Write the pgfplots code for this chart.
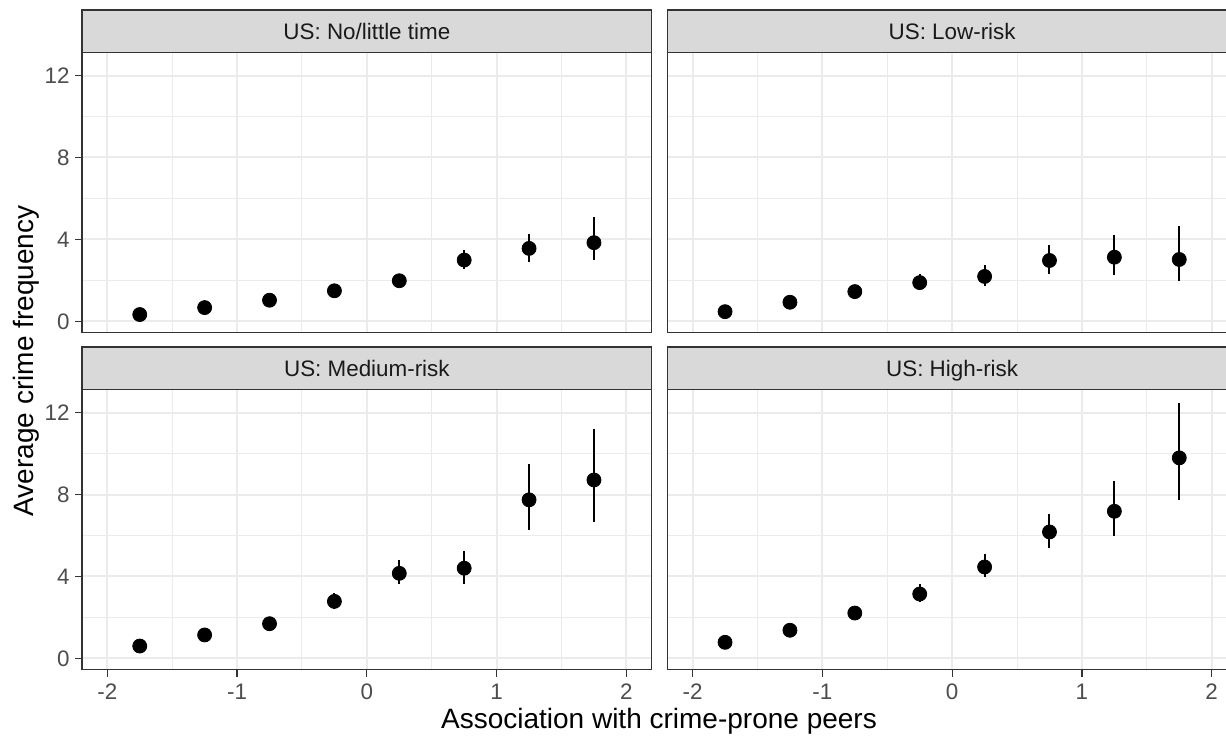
\documentclass[border=0pt]{standalone}
\usepackage{pgfplots}
\pgfplotsset{compat=1.18}
\usepackage{pgfplotstable}
\usepackage{fontspec}
\setmainfont{Liberation Sans}
\definecolor{gridc}{HTML}{EBEBEB}
\definecolor{borderc}{HTML}{333333}
\definecolor{stripc}{HTML}{D9D9D9}
\definecolor{tickc}{HTML}{4D4D4D}
\definecolor{stript}{HTML}{1A1A1A}

\pgfplotstableread{
x y ep em
-1.75 0.33 0.07 0.06
-1.25 0.67 0.10 0.09
-0.75 1.03 0.12 0.11
-0.25 1.49 0.16 0.14
0.25 1.98 0.17 0.16
0.75 2.99 0.47 0.46
1.25 3.56 0.72 0.65
1.75 3.84 1.23 0.87
}\nl
\pgfplotstableread{
x y ep em
-1.75 0.47 0.08 0.07
-1.25 0.93 0.10 0.10
-0.75 1.45 0.13 0.13
-0.25 1.89 0.40 0.26
0.25 2.19 0.54 0.48
0.75 2.97 0.75 0.65
1.25 3.13 1.08 0.88
1.75 3.02 1.62 1.06
}\lr
\pgfplotstableread{
x y ep em
-1.75 0.60 0.10 0.08
-1.25 1.14 0.12 0.12
-0.75 1.69 0.16 0.15
-0.25 2.78 0.40 0.38
0.25 4.15 0.64 0.53
0.75 4.40 0.86 0.75
1.25 7.74 1.77 1.49
1.75 8.71 2.48 2.03
}\mr
\pgfplotstableread{
x y ep em
-1.75 0.78 0.12 0.10
-1.25 1.37 0.15 0.13
-0.75 2.21 0.24 0.23
-0.25 3.14 0.48 0.39
0.25 4.46 0.61 0.49
0.75 6.17 0.90 0.76
1.25 7.18 1.48 1.22
1.75 9.79 2.69 2.07
}\hr

\pgfplotsset{
  panel/.style={
    scale only axis, width=284.85pt, height=140pt, anchor=north west,
    xmin=-2.195, xmax=2.195, ymin=-0.557, ymax=13.118,
    xtick={-2,-1,0,1,2}, ytick={0,4,8,12},
    minor xtick={-1.5,-0.5,0.5,1.5}, minor ytick={2,6,10},
    grid=both,
    major grid style={gridc, line width=1pt},
    minor grid style={gridc, line width=0.5pt},
    axis line style={borderc, line width=0.6pt},
    tick align=outside, tick pos=left,
    major tick length=3.5pt, minor tick length=0pt,
    every tick/.style={borderc, line width=0.6pt},
    tick label style={font=\fontsize{11.2}{13}\selectfont, text=tickc, inner sep=0pt},
    yticklabel style={xshift=-2.5pt},
    xticklabel style={yshift=-3.5pt},
    xticklabels={-2,-1,0,1,2}, yticklabels={0,4,8,12},
  },
  notopx/.style={xticklabels={}, xtick style={draw=none}},
  noy/.style={yticklabels={}, ytick style={draw=none}},
  pts/.style={only marks, mark=*, mark size=3.5pt, black,
    error bars/.cd, y dir=both, y explicit, error mark=none,
    error bar style={line width=1pt, black}},
}

\begin{document}
\begin{tikzpicture}
\useasboundingbox (0,0) rectangle (613pt,-367.5pt);
\clip (0,0) rectangle (613pt,-367.5pt);

\begin{axis}[panel, notopx, name=a1, at={(41pt,-26.35pt)}]
\addplot[pts] table[x=x, y=y, y error plus=ep, y error minus=em] {\nl};
\end{axis}
\begin{axis}[panel, notopx, noy, name=a2, at={(333.65pt,-26.35pt)}]
\addplot[pts] table[x=x, y=y, y error plus=ep, y error minus=em] {\lr};
\end{axis}
\begin{axis}[panel, name=a3, at={(41pt,-194.85pt)}]
\addplot[pts] table[x=x, y=y, y error plus=ep, y error minus=em] {\mr};
\end{axis}
\begin{axis}[panel, noy, name=a4, at={(333.65pt,-194.85pt)}]
\addplot[pts] table[x=x, y=y, y error plus=ep, y error minus=em] {\hr};
\end{axis}

\foreach \a/\t in {a1/{US: No/little time}, a2/{US: Low-risk}, a3/{US: Medium-risk}, a4/{US: High-risk}} {
  \draw[fill=stripc, draw=borderc, line width=0.6pt] (\a.north west) rectangle ([yshift=21.35pt]\a.north east);
  \node[text=stript, font=\fontsize{11.2}{13}\selectfont, anchor=base]
    at ([yshift=6.7pt]\a.north) {\t};
}

\node[anchor=base, font=\fontsize{14}{16}\selectfont] at (329.5pt,-364.3pt)
  {Association with crime-prone peers};
\node[anchor=base, rotate=90, font=\fontsize{14}{16}\selectfont] at (16.5pt,-180.5pt)
  {Average crime frequency};
\end{tikzpicture}
\end{document}
